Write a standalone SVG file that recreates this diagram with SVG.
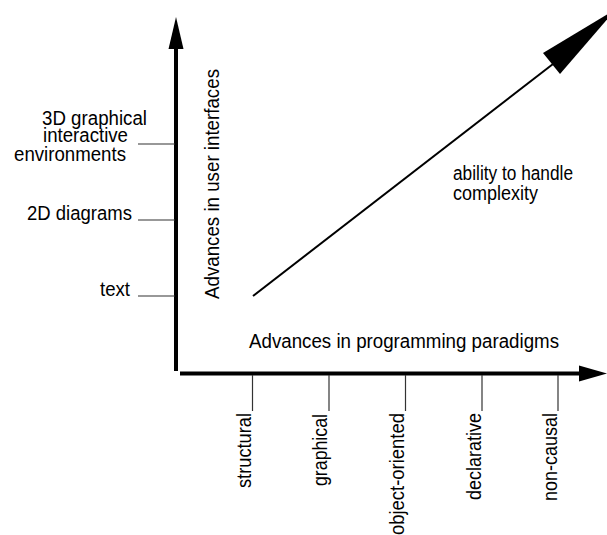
<svg xmlns="http://www.w3.org/2000/svg" width="607" height="535" viewBox="0 0 607 535">
<style>
text{font-family:"Liberation Sans",Arial,sans-serif;font-size:20px;fill:#000}
.tick{stroke:#333;stroke-width:1.2;fill:none}
.axis{stroke:#000;stroke-width:4;fill:none}
</style>
<rect width="607" height="535" fill="#fff"/>
<g id="connectors">
<line class="axis" x1="176" y1="46" x2="176" y2="371"/>
<polygon points="176,17 168.5,49 183.5,49" fill="#000"/>
<line class="axis" x1="180" y1="373.5" x2="582" y2="373.5"/>
<polygon points="607,373.5 579,365.5 579,381.5" fill="#000"/>
<line x1="253" y1="296" x2="553" y2="64" stroke="#000" stroke-width="2"/>
<polygon points="616,9 543,53 560,74" fill="#000"/>
</g>
<g id="y-axis-label"><text transform="translate(219,299) rotate(-90)" textLength="230" lengthAdjust="spacingAndGlyphs">Advances in user interfaces</text></g>
<g id="x-axis-label"><text x="249" y="348" textLength="310" lengthAdjust="spacingAndGlyphs">Advances in programming paradigms</text></g>
<g id="complexity-label">
<text x="453" y="180" textLength="120" lengthAdjust="spacingAndGlyphs">ability to handle</text>
<text x="453" y="200" textLength="85" lengthAdjust="spacingAndGlyphs">complexity</text>
</g>
<g id="y-3d">
<line class="tick" x1="138" y1="144" x2="175" y2="144"/>
<text x="42" y="125" textLength="105" lengthAdjust="spacingAndGlyphs">3D graphical</text>
<text x="43" y="142" textLength="85" lengthAdjust="spacingAndGlyphs">interactive</text>
<text x="14" y="161" textLength="112" lengthAdjust="spacingAndGlyphs">environments</text>
</g>
<g id="y-2d">
<line class="tick" x1="138" y1="220" x2="175" y2="220"/>
<text x="27" y="220" textLength="105" lengthAdjust="spacingAndGlyphs">2D diagrams</text>
</g>
<g id="y-text">
<line class="tick" x1="138" y1="296" x2="175" y2="296"/>
<text x="100" y="296" textLength="30" lengthAdjust="spacingAndGlyphs">text</text>
</g>
<g id="x-structural">
<line class="tick" x1="252.5" y1="375" x2="252.5" y2="411"/>
<text transform="translate(251,413) rotate(-90)" text-anchor="end" textLength="75" lengthAdjust="spacingAndGlyphs">structural</text>
</g>
<g id="x-graphical">
<line class="tick" x1="329" y1="375" x2="329" y2="411"/>
<text transform="translate(327,414) rotate(-90)" text-anchor="end" textLength="72" lengthAdjust="spacingAndGlyphs">graphical</text>
</g>
<g id="x-object-oriented">
<line class="tick" x1="405.5" y1="375" x2="405.5" y2="411"/>
<text transform="translate(404,413) rotate(-90)" text-anchor="end" textLength="122" lengthAdjust="spacingAndGlyphs">object-oriented</text>
</g>
<g id="x-declarative">
<line class="tick" x1="482" y1="375" x2="482" y2="411"/>
<text transform="translate(480.5,413) rotate(-90)" text-anchor="end" textLength="87" lengthAdjust="spacingAndGlyphs">declarative</text>
</g>
<g id="x-non-causal">
<line class="tick" x1="558" y1="375" x2="558" y2="411"/>
<text transform="translate(556.5,413) rotate(-90)" text-anchor="end" textLength="88" lengthAdjust="spacingAndGlyphs">non-causal</text>
</g>
</svg>
